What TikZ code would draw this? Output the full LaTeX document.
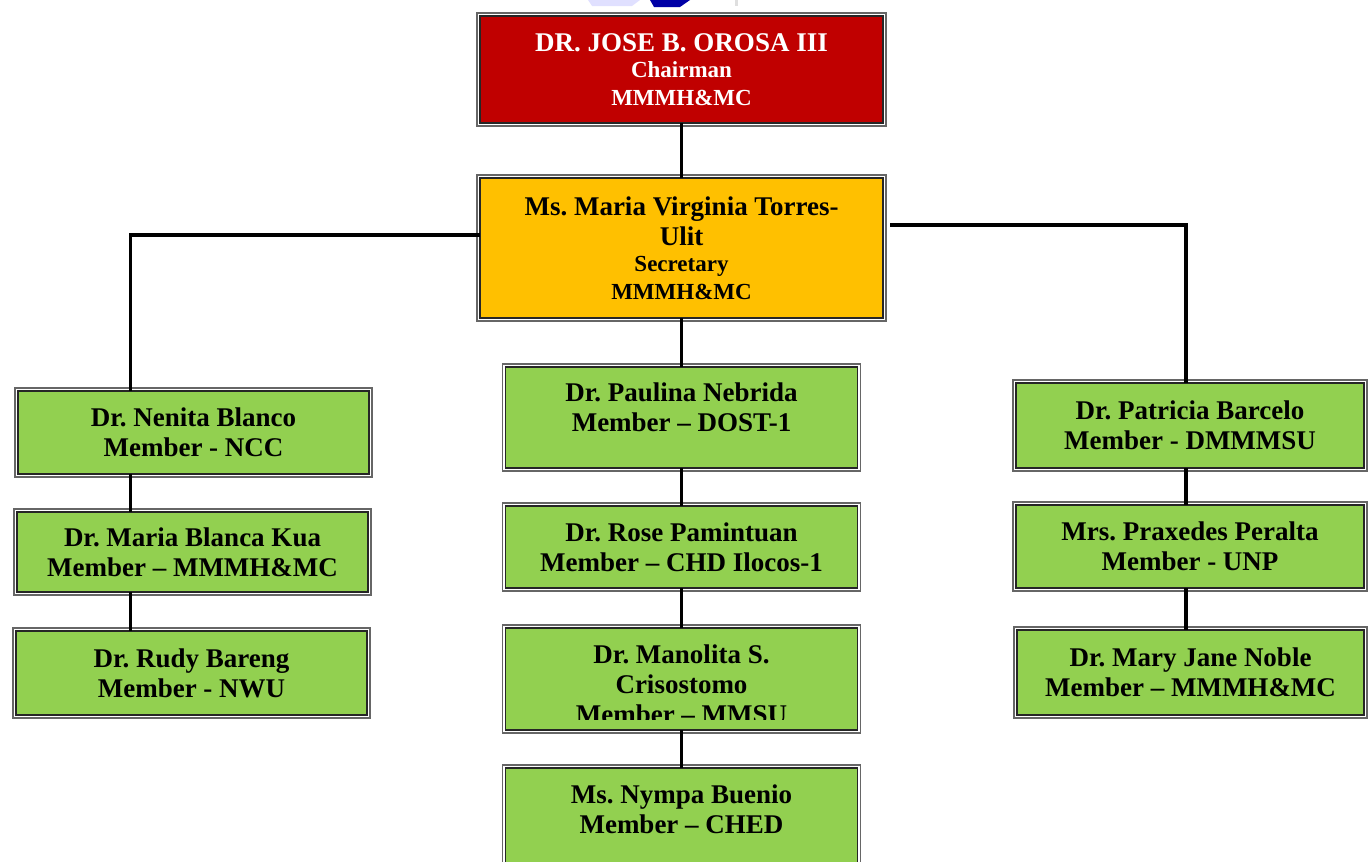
\documentclass[tikz,border=0pt]{standalone}
\usepackage{fontspec}
\setmainfont{Liberation Serif}
\frenchspacing
\definecolor{chairred}{HTML}{C00000}
\definecolor{secgold}{HTML}{FFC000}
\definecolor{memgreen}{HTML}{92D050}
\newcommand{\subline}[1]{{\fontsize{23}{27}\selectfont #1}}

\begin{document}
\begin{tikzpicture}[x=1pt, y=-1pt,
  box/.style={draw=black!85, line width=1.4pt, inner sep=0pt, outer sep=0pt, align=center,
    font=\bfseries\fontsize{27}{30}\selectfont},
  member/.style={box, fill=memgreen},
  frame/.style={draw=gray!80!black, line width=1.2pt},
  link/.style={line width=3.2pt, black}]
\useasboundingbox (0,0) rectangle (1368,862);

% top of a picture cut by the page
\fill[blue!12] (588,0) -- (640,0) -- (632,6) -- (592,6) -- cycle;
\fill[blue!65!black] (650,0) -- (690,0) -- (680,7) -- (654,7) -- cycle;
\fill[gray!25] (735,0) rectangle (738,6);

\node[box, fill=chairred, text=white, minimum width=403pt, minimum height=107pt] (chair) at (681.5,69.5)
  {DR. JOSE B. OROSA III\\[-4pt]\subline{Chairman}\\[-2pt]\subline{MMMH\&MC}};
\node[box, fill=secgold, minimum width=403pt, minimum height=140pt] (sec) at (681.5,248)
  {Ms. Maria Virginia Torres-\\Ulit\\[-4pt]\subline{Secretary}\\[-2pt]\subline{MMMH\&MC}};

% left column
\node[member, minimum width=351pt, minimum height=83pt] (nenita) at (193.5,432.5) {Dr. Nenita Blanco\\Member - NCC};
\node[member, minimum width=351pt, minimum height=80pt] (kua) at (192.5,552) {Dr. Maria Blanca Kua\\Member – MMMH\&MC};
\node[member, minimum width=351pt, minimum height=84pt] (bareng) at (191.5,673) {Dr. Rudy Bareng\\Member - NWU};

% middle column
\node[member, minimum width=352pt, minimum height=101pt] (nebrida) at (681.5,417.5)
  {Dr. Paulina Nebrida\\Member – DOST-1\rule[-20pt]{0pt}{0pt}};
\node[member, minimum width=352pt, minimum height=82pt] (pamintuan) at (681.5,547) {Dr. Rose Pamintuan\\Member – CHD Ilocos-1};
\node[member, minimum width=352pt, minimum height=102pt] (cris) at (681.5,679) {};
\begin{scope}
\clip (cris.north west) rectangle (cris.east |- 0,719);
\node[box, draw=none, anchor=north] (cristxt) at (681.5,645) {Dr. Manolita S.\\Crisostomo\\Member – MMSU};
\end{scope}
\node[member, minimum width=352pt, minimum height=102pt] (buenio) at (681.5,819)
  {Ms. Nympa Buenio\\Member – CHED\rule[-20pt]{0pt}{0pt}};

% right column
\node[member, minimum width=348pt, minimum height=85pt] (barcelo) at (1190,425.5) {Dr. Patricia Barcelo\\Member - DMMMSU};
\node[member, minimum width=348pt, minimum height=83pt] (peralta) at (1190,546.5) {Mrs. Praxedes Peralta\\Member - UNP};
\node[member, minimum width=347pt, minimum height=85pt] (noble) at (1190.5,672.5) {Dr. Mary Jane Noble\\Member – MMMH\&MC};

\foreach \n in {chair,sec,nenita,kua,bareng,nebrida,pamintuan,cris,buenio,barcelo,peralta,noble}
  \draw[frame] ([shift={(-3pt,3pt)}]\n.north west) rectangle ([shift={(3pt,-3pt)}]\n.south east);

\coordinate (jl) at (130.5,235);
\coordinate (jr) at (1186,225);

\draw[link] (chair) -- (sec);
\draw[link] (sec.west |- jl) -- (jl) -- (jl |- nenita.north);
\draw[link] ([xshift=7pt]sec.east |- jr) -- (jr) -- (jr |- barcelo.north);
\draw[link] (sec) -- (nebrida);

\draw[link] (jl |- nenita.south) -- (jl |- kua.north);
\draw[link] (jl |- kua.south) -- (jl |- bareng.north);
\draw[link] (nebrida) -- (pamintuan);
\draw[link] (pamintuan) -- (cris);
\draw[link] (cris) -- (buenio);
\draw[link] (jr |- barcelo.south) -- (jr |- peralta.north);
\draw[link] (jr |- peralta.south) -- (jr |- noble.north);
\end{tikzpicture}
\end{document}
